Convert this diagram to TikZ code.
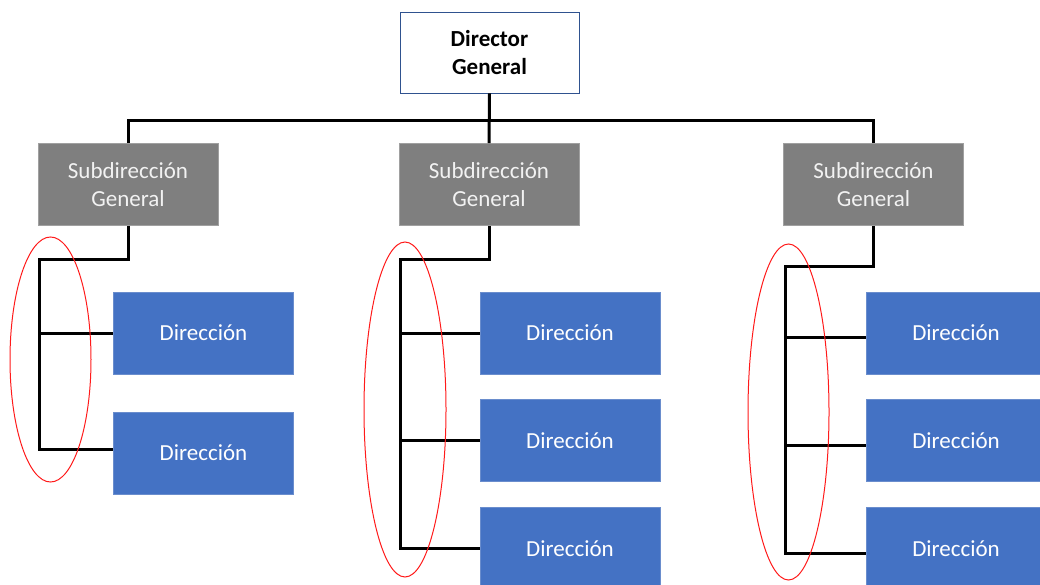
\documentclass[tikz,border=0pt]{standalone}
\usepackage{fontspec}
\setmainfont{Carlito}
\definecolor{dirblue}{HTML}{4472C4}
\definecolor{diredge}{HTML}{6A8DCD}
\definecolor{subgray}{HTML}{7F7F7F}
\definecolor{subedge}{HTML}{A0A0A0}
\definecolor{subtext}{HTML}{F2F2F2}
\definecolor{topedge}{HTML}{2F528F}
\definecolor{ringred}{HTML}{FF1A1A}
\begin{document}
\begin{tikzpicture}[x=1pt,y=-1pt,
  box/.style={minimum width=180pt, minimum height=82pt, inner sep=0pt, align=center,
    font=\fontsize{23}{28}\selectfont, line width=0.6pt},
  topbox/.style={box, minimum width=179pt, minimum height=81pt, draw=topedge, fill=white,
    text=black, font=\fontsize{23}{28}\selectfont\bfseries},
  subbox/.style={box, fill=subgray, draw=subedge, text=subtext},
  dirbox/.style={box, fill=dirblue, draw=diredge, text=white},
  link/.style={line width=3pt, line join=miter, draw=black},
  ring/.style={draw=ringred, line width=1pt}]
\useasboundingbox (0,0) rectangle (1040,585);
\clip (0,0) rectangle (1040,585);

% top level
\node[topbox] (dg) at (489.5,52.5) {Director\\General};

% second level
\node[subbox] (s1) at (128,184.5) {Subdirección\\General};
\node[subbox] (s2) at (489,184.5) {Subdirección\\General};
\node[subbox] (s3) at (873.5,184.5) {Subdirección\\General};

% third level
\node[dirbox] (d11) at (203.5,333) {Dirección};
\node[dirbox] (d12) at (203.5,453) {Dirección};
\node[dirbox] (d21) at (570,333) {Dirección};
\node[dirbox] (d22) at (570,440.5) {Dirección};
\node[dirbox] (d23) at (570,548.5) {Dirección};
\node[dirbox] (d31) at (956,333) {Dirección};
\node[dirbox] (d32) at (956,440.5) {Dirección};
\node[dirbox] (d33) at (956,548.5) {Dirección};

% bend points of the connectors
\coordinate (bus) at (489,121);
\coordinate (b1) at (39,259);
\coordinate (b2) at (400,259);
\coordinate (b3) at (785,266);

% where the branches meet the boxes
\coordinate (e12) at ([yshift=4pt]d12.west);
\coordinate (e31) at ([yshift=-4pt]d31.west);
\coordinate (e32) at ([yshift=-5pt]d32.west);
\coordinate (e33) at ([yshift=-5pt]d33.west);

% connectors from the director
\draw[link] (s1.north) |- (bus) -| (s3.north);
\draw[link] (dg.south) -- (s2.north);

% left branch
\draw[link] (s1.south) |- (b1) |- (e12);
\draw[link] (b1 |- d11.west) -- (d11.west);

% middle branch
\draw[link] (s2.south) |- (b2) |- (d23.west);
\draw[link] (b2 |- d21.west) -- (d21.west);
\draw[link] (b2 |- d22.west) -- (d22.west);

% right branch
\draw[link] (s3.south) |- (b3) |- (e33);
\draw[link] (b3 |- e31) -- (e31);
\draw[link] (b3 |- e32) -- (e32);

% highlight rings round the vertical spines
\draw[ring] (50.5,359.5) ellipse [x radius=40.5pt, y radius=122.5pt];
\draw[ring] (405,409.5) ellipse [x radius=41pt, y radius=167.5pt];
\draw[ring] (788.5,412) ellipse [x radius=40.5pt, y radius=168pt];
\end{tikzpicture}
\end{document}
